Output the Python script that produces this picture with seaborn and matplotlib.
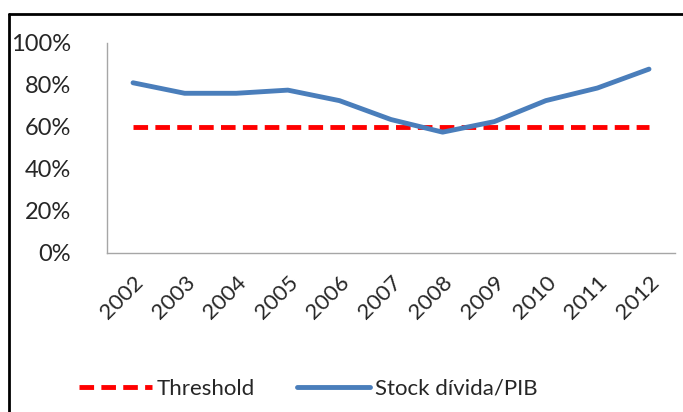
import matplotlib
matplotlib.use("Agg")
import matplotlib.pyplot as plt
import matplotlib.lines as mlines
import matplotlib.transforms as mtransforms
import seaborn as sns
import pandas as pd

# Data
years = [2002, 2003, 2004, 2005, 2006, 2007, 2008, 2009, 2010, 2011, 2012]
stock_divida_pib = [81, 76, 76, 77.5, 72.5, 63.5, 57.5, 62.5, 72.5, 78.5, 87.5]
threshold = [60] * len(years)
yticks = [0, 20, 40, 60, 80, 100]

df = pd.DataFrame({"ano": years, "stock": stock_divida_pib, "threshold": threshold})

sns.set_theme(style="white")
plt.rcParams["font.family"] = ["Lato", "DejaVu Sans"]

fig = plt.figure(figsize=(6.83, 4.12), dpi=100)
ax = fig.add_axes([0.157, 0.386, 0.831, 0.51])

sns.lineplot(data=df, x="ano", y="threshold", ax=ax, color="#FF0000", lw=3.5,
             linestyle=(0, (3.0, 1.5)), label="Threshold")
sns.lineplot(data=df, x="ano", y="stock", ax=ax, color="#4A7EBB", lw=3.5,
             label="Stock dívida/PIB")

ax.set_xlim(2001.5, 2012.5)
ax.set_ylim(0, 100)
ax.set_xticks(years)
ax.set_xticklabels([str(y) for y in years], rotation=45, ha="right",
                   rotation_mode="anchor", fontsize=16, color="#262626")
# nudge the rotated labels a bit left, like the original
shift = mtransforms.ScaledTranslation(-6 / 100, 0, fig.dpi_scale_trans)
for lbl in ax.get_xticklabels():
    lbl.set_transform(lbl.get_transform() + shift)
ax.set_yticks(yticks)
ax.set_yticklabels([f"{v}%" for v in yticks], fontsize=17, color="#262626")
ax.tick_params(axis="both", length=0)
ax.tick_params(axis="y", pad=26)
ax.tick_params(axis="x", pad=14)
ax.set_xlabel("")
ax.set_ylabel("")

for side in ["top", "right"]:
    ax.spines[side].set_visible(False)
for side in ["left", "bottom"]:
    ax.spines[side].set_color("#A6A6A6")
    ax.spines[side].set_linewidth(1)

handles, labels = ax.get_legend_handles_labels()
ax.get_legend().remove()
fig.legend(handles, labels, loc="center", bbox_to_anchor=(0.451, 0.056),
           ncol=2, frameon=False, fontsize=16, handlelength=3.3,
           handletextpad=0.2, columnspacing=1.9, labelcolor="#262626")

# outer frame (left and top edges visible)
fig.add_artist(mlines.Line2D([9 / 683, 9 / 683], [0, 1 - 14 / 412], color="black", lw=2))
fig.add_artist(mlines.Line2D([9 / 683, 1], [1 - 14 / 412, 1 - 14 / 412], color="black", lw=2))

fig.savefig("out.png", dpi=100)
